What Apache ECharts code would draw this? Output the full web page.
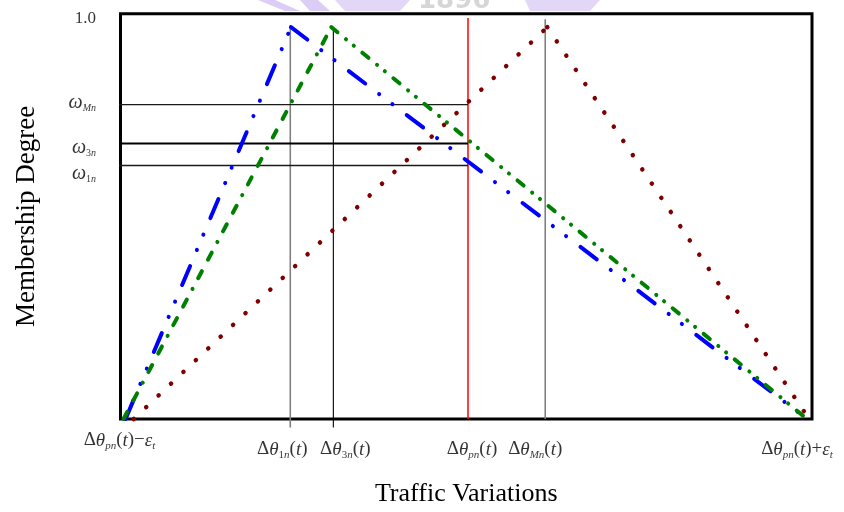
<!DOCTYPE html>
<html><head><meta charset="utf-8">
<script src="https://cdn.jsdelivr.net/npm/echarts@6/dist/echarts.min.js"></script>
<style>html,body{margin:0;padding:0;background:#fff}#c{width:844px;height:512px}</style>
</head><body><div id="c"></div>
<script>
// ---------- data ----------
const blueLine  = [[0.3, 0], [24.5, 1.0], [100, 0]];    // peak at Δθ1n
const greenLine = [[0, 0],   [30.4, 1.0], [100, 0]];    // peak at Δθ3n
const brownLine = [[1.5, 0], [62.0, 1.0], [100.3, 0]];  // peak at ΔθMn

const tickValues = [0, 24.4, 30.7, 50.4, 61.7, 100];
const tickLabels = [
  '{n|Δ}{i|θ}{s|pn}{n|(}{i|t}{n|)−}{i|ε}{s|t}',
  '{n|Δ}{i|θ}{su|1}{s|n}{n|(}{i|t}{n|)}',
  '{n|Δ}{i|θ}{su|3}{s|n}{n|(}{i|t}{n|)}',
  '{n|Δ}{i|θ}{s|pn}{n|(}{i|t}{n|)}',
  '{n|Δ}{i|θ}{s|Mn}{n|(}{i|t}{n|)}',
  '{n|Δ}{i|θ}{s|pn}{n|(}{i|t}{n|)+}{i|ε}{s|t}'
];

const vLineValues  = [24.4, 30.7, 50.4, 61.7];
const vLineBottoms = [-0.022, -0.022, 0, 0];
const vLineTops    = [1.005, 1.0, 1.023, 1.02];

const levelValues = [1.0, 0.802, 0.703, 0.647];
const levelLabels = ['{y|1.0}', '{w|ω}{ws|Mn}', '{w|ω}{wsu|3}{ws|n}', '{w|ω}{wsu|1}{ws|n}'];
const levelEndX = 50.4;

// ---------- layout / style ----------
const X_MIN = -0.44, X_MAX = 100.73, Y_MIN = 0, Y_MAX = 1.034;
const FONT = 'Liberation Serif';
const tickOffsets  = [[-4, -9], [-8, 0], [12, 0], [4, 0], [-10, 0], [-10, 0]];
const levelOffsets = [[0, -9], [0, -2], [0, 4], [0, 8]];
const vLineStyles = [
  {color: '#808080', width: 1.6},
  {color: '#000000', width: 1.1},
  {color: '#ff0000', width: 1.5},
  {color: '#808080', width: 1.6}
];
const hLineStyles = [
  null,
  {color: '#1a1a1a', width: 1.3},
  {color: '#000000', width: 2.2},
  {color: '#1a1a1a', width: 1.4}
];

const richX = {
  n:  {fontFamily: FONT, fontSize: 19, lineHeight: 22, color: '#000'},
  i:  {fontFamily: FONT, fontSize: 19, lineHeight: 22, color: '#000', fontStyle: 'italic'},
  s:  {fontFamily: FONT, fontSize: 11, lineHeight: 11, color: '#000', fontStyle: 'italic', verticalAlign: 'bottom'},
  su: {fontFamily: FONT, fontSize: 11, lineHeight: 11, color: '#000', verticalAlign: 'bottom'}
};
const richY = {
  y:   {fontFamily: FONT, fontSize: 17, lineHeight: 20, color: '#000'},
  w:   {fontFamily: FONT, fontSize: 20, lineHeight: 22, color: '#000', fontStyle: 'italic'},
  ws:  {fontFamily: FONT, fontSize: 10, lineHeight: 10, color: '#000', fontStyle: 'italic', verticalAlign: 'bottom'},
  wsu: {fontFamily: FONT, fontSize: 10, lineHeight: 10, color: '#000', verticalAlign: 'bottom'}
};

function segSeries(points, color, width, dashes, z) {
  const out = [];
  for (let k = 0; k < points.length - 1; k++) {
    out.push({
      type: 'line', data: [points[k], points[k + 1]], showSymbol: false, silent: true,
      clip: false, z: z,
      lineStyle: {color: color, width: width, type: dashes[k], cap: 'round', join: 'round'}
    });
  }
  return out;
}

const series = [];
// vertical reference lines
vLineValues.forEach((v, k) => {
  series.push({
    type: 'line', data: [[v, vLineBottoms[k]], [v, vLineTops[k]]], showSymbol: false,
    silent: true, clip: false, z: 2, lineStyle: vLineStyles[k]
  });
});
// horizontal membership levels
levelValues.forEach((lv, k) => {
  if (!hLineStyles[k]) return;
  series.push({
    type: 'line', data: [[X_MIN - 0.45, lv], [levelEndX, lv]], showSymbol: false,
    silent: true, clip: false, z: 2, lineStyle: hLineStyles[k]
  });
});
// membership functions
series.push(...segSeries(brownLine, '#800000', 4.5, [[0.1, 17], [0.1, 17]], 3));
series.push(...segSeries(blueLine, '#0000ff', 4, [[20.5, 17.5, 0.1, 16.5, 0.1, 18], [20.5, 17.5, 0.1, 16.5, 0.1, 18]], 4));
series.push(...segSeries(greenLine, '#008000', 4, [[8, 13, 8, 12, 0.1, 12], [8, 11, 0.1, 10, 0.1, 11]], 5));

// tick labels on x
series.push({
  type: 'scatter', silent: true, clip: false, z: 6, symbolSize: 1,
  itemStyle: {color: 'rgba(0,0,0,0)'},
  label: {show: true, position: 'bottom', distance: 19, rich: richX},
  data: tickValues.map((v, k) => ({
    value: [v, Y_MIN],
    label: {formatter: tickLabels[k], offset: tickOffsets[k]}
  }))
});
// tick labels on y
series.push({
  type: 'scatter', silent: true, clip: false, z: 6, symbolSize: 1,
  itemStyle: {color: 'rgba(0,0,0,0)'},
  label: {show: true, position: 'left', distance: 24, rich: richY},
  data: levelValues.map((v, k) => ({
    value: [X_MIN, v],
    label: {formatter: levelLabels[k], offset: levelOffsets[k]}
  }))
});

const chart = echarts.init(document.getElementById('c'), null, {renderer: 'canvas'});
chart.setOption({
  animation: false,
  backgroundColor: '#fff',
  graphic: [
    {type: 'polygon', z: -1, silent: true, shape: {points: [[258, 0], [275, 0], [300, 11], [285, 11]]}, style: {fill: '#dccdf6'}},
    {type: 'polygon', z: -1, silent: true, shape: {points: [[300, 0], [318, 0], [330, 11], [310, 11]]}, style: {fill: '#dccdf6'}},
    {type: 'polygon', z: -1, silent: true, shape: {points: [[335, 0], [410, 0], [400, 11], [345, 11]]}, style: {fill: '#e3d7f8'}},
    {type: 'polygon', z: -1, silent: true, shape: {points: [[525, 0], [600, 0], [590, 11], [530, 11]]}, style: {fill: '#e3d7f8'}},
    {type: 'text', z: -1, silent: true, left: 418, top: -12, style: {text: '1896', fontFamily: 'DejaVu Sans', fontWeight: 'bold', fontSize: 26, fill: '#d6d6d6'}}
  ],
  grid: {left: 120.5, right: 32, top: 13.8, bottom: 91, show: true, borderColor: '#000', borderWidth: 3, backgroundColor: 'rgba(0,0,0,0)'},
  xAxis: {
    type: 'value', min: X_MIN, max: X_MAX,
    name: 'Traffic Variations', nameLocation: 'middle', nameGap: 62,
    nameTextStyle: {fontFamily: FONT, fontSize: 26, color: '#000'},
    axisLine: {show: false}, axisTick: {show: false}, axisLabel: {show: false}, splitLine: {show: false}
  },
  yAxis: {
    type: 'value', min: Y_MIN, max: Y_MAX,
    name: 'Membership Degree', nameLocation: 'middle', nameGap: 80,
    nameTextStyle: {fontFamily: FONT, fontSize: 27, color: '#000'},
    axisLine: {show: false}, axisTick: {show: false}, axisLabel: {show: false}, splitLine: {show: false}
  },
  series: series
});
</script>
</body></html>
